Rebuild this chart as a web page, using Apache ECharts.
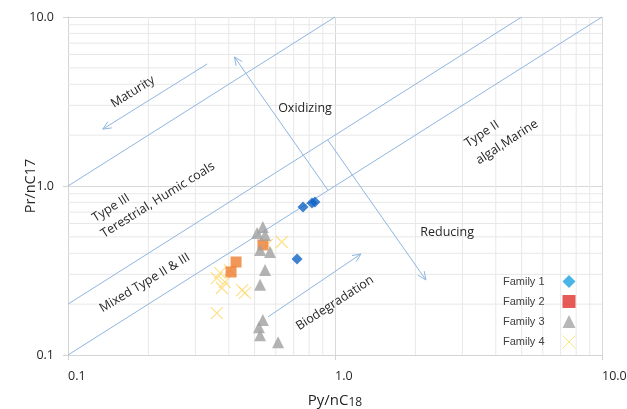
<!DOCTYPE html>
<html>
<head>
<meta charset="utf-8">
<script src="https://cdn.jsdelivr.net/npm/echarts@6/dist/echarts.min.js"></script>
<style>
  html, body { margin: 0; padding: 0; background: #ffffff; }
  #chart { width: 627px; height: 409px; }
</style>
</head>
<body>
<div id="chart"></div>
<script>
// Pristane / phytane source-environment cross plot (log-log)
const family1 = [[0.759, 0.751], [0.820, 0.793], [0.841, 0.804], [0.721, 0.370]];
const family2 = [[0.426, 0.355], [0.408, 0.310], [0.537, 0.448]];
const family3 = [
  [0.537, 0.572], [0.511, 0.527], [0.547, 0.513], [0.524, 0.418], [0.571, 0.407],
  [0.547, 0.318], [0.524, 0.260], [0.537, 0.161], [0.519, 0.146], [0.524, 0.131], [0.612, 0.119]
];
const family4 = [
  [0.371, 0.306], [0.361, 0.285], [0.404, 0.318], [0.377, 0.249], [0.449, 0.242],
  [0.460, 0.233], [0.361, 0.177], [0.632, 0.466], [0.556, 0.448], [0.387, 0.270]
];

const axisTicks = [0.1, 1, 10];
const minorSteps = [2, 3, 4, 5, 6, 7, 8, 9];

// Kerogen-type boundary lines (start, end)
const refLines = [
  [[0.1, 1.0], [1.0, 10]],
  [[0.1, 0.2], [5.0, 10]],
  [[0.1, 0.1], [10, 10]]
];
// Trend arrows (tail, head)
const trendArrows = [
  [[0.332, 5.27], [0.135, 2.17]],   // Maturity
  [[0.94, 0.946], [0.42, 5.8]],     // Oxidizing
  [[0.94, 1.87], [2.19, 0.278]],    // Reducing
  [[0.561, 0.168], [1.25, 0.396]]   // Biodegradation
];
const zoneLabels = [
  { text: 'Maturity', at: [0.175, 3.60], rotate: 32 },
  { text: 'Oxidizing', at: [0.772, 2.89], rotate: 0 },
  { text: 'Type II', at: [3.55, 2.03], rotate: 33 },
  { text: 'algal,Marine', at: [4.41, 1.82], rotate: 33 },
  { text: 'Type III', at: [0.145, 0.741], rotate: 32 },
  { text: 'Terestrial, Humic coals', at: [0.217, 0.826], rotate: 32 },
  { text: 'Mixed Type II & III', at: [0.194, 0.267], rotate: 31 },
  { text: 'Reducing', at: [2.63, 0.534], rotate: 0 },
  { text: 'Biodegradation', at: [1.0, 0.203], rotate: 33 }
];

const LINE_BLUE = '#8fb6e0';
const TEXT_DARK = '#262626';
const ANNOT_FONT = '"Open Sans", "Noto Sans", sans-serif';

const minorValues = [];
axisTicks.slice(0, -1).forEach(d => minorSteps.forEach(s => minorValues.push(+(d * s).toPrecision(3))));

function renderMinorGrid(params, api) {
  const children = [];
  minorValues.forEach(v => {
    const a = api.coord([v, 0.1]), b = api.coord([v, 10]);
    children.push({ type: 'line', shape: { x1: a[0], y1: a[1], x2: b[0], y2: b[1] },
      style: { stroke: '#e8e8e8', lineWidth: 1 } });
    const c = api.coord([0.1, v]), d = api.coord([10, v]);
    children.push({ type: 'line', shape: { x1: c[0], y1: c[1], x2: d[0], y2: d[1] },
      style: { stroke: '#e8e8e8', lineWidth: 1 } });
  });
  return { type: 'group', children };
}

function renderGuides(params, api) {
  const children = [];
  refLines.forEach(([s, e]) => {
    const p = api.coord(s), q = api.coord(e);
    children.push({ type: 'line', shape: { x1: p[0], y1: p[1], x2: q[0], y2: q[1] },
      style: { stroke: LINE_BLUE, lineWidth: 1 } });
  });
  trendArrows.forEach(([s, e]) => {
    const p = api.coord(s), q = api.coord(e);
    const ang = Math.atan2(q[1] - p[1], q[0] - p[0]);
    const len = 9, spread = 0.42;
    const h1 = [q[0] - len * Math.cos(ang - spread), q[1] - len * Math.sin(ang - spread)];
    const h2 = [q[0] - len * Math.cos(ang + spread), q[1] - len * Math.sin(ang + spread)];
    children.push({ type: 'line', shape: { x1: p[0], y1: p[1], x2: q[0], y2: q[1] },
      style: { stroke: LINE_BLUE, lineWidth: 1 } });
    children.push({ type: 'polyline', shape: { points: [h1, q, h2] },
      style: { stroke: LINE_BLUE, lineWidth: 1, fill: null } });
  });
  return { type: 'group', children };
}

function renderLabels(params, api) {
  const children = zoneLabels.map(l => {
    const p = api.coord(l.at);
    return { type: 'text', x: p[0], y: p[1], rotation: l.rotate * Math.PI / 180,
      style: { text: l.text, fill: TEXT_DARK, fontSize: 12.5, fontFamily: ANNOT_FONT,
        align: 'center', verticalAlign: 'middle' } };
  });
  return { type: 'group', children };
}

const axisCommon = {
  type: 'log', logBase: 10, min: 0.1, max: 10,
  axisLine: { show: true, lineStyle: { color: '#d4d4d4', width: 1 } },
  axisTick: { show: true, length: 5, lineStyle: { color: '#d4d4d4' } },
  splitLine: { show: true, lineStyle: { color: '#d9d9d9', width: 1 } },
  minorTick: { show: false },
  minorSplitLine: { show: false }
};

const chart = echarts.init(document.getElementById('chart'), null, { renderer: 'canvas' });
chart.setOption({
  backgroundColor: '#ffffff',
  animation: false,
  grid: { left: 68, right: 25, top: 17, bottom: 54, containLabel: false, outerBoundsMode: 'none' },
  xAxis: Object.assign({}, axisCommon, {
    name: '{a|Py/nC}{b|18}', nameLocation: 'middle', nameGap: 38,
    nameTextStyle: { rich: {
      a: { fontSize: 15, color: TEXT_DARK, fontFamily: ANNOT_FONT },
      b: { fontSize: 12, color: TEXT_DARK, fontFamily: ANNOT_FONT, padding: [4, 0, 0, 0] } } },
    axisLabel: { align: 'left', margin: 15, fontSize: 12.5, color: TEXT_DARK, fontFamily: ANNOT_FONT,
      formatter: v => v.toFixed(1) }
  }),
  yAxis: Object.assign({}, axisCommon, {
    name: 'Pr/nC17', nameLocation: 'middle', nameGap: 30, nameMoveOverlap: false,
    nameTextStyle: { fontSize: 14.5, color: TEXT_DARK, fontFamily: ANNOT_FONT },
    axisLabel: { margin: 14, fontSize: 12.5, color: TEXT_DARK, fontFamily: ANNOT_FONT,
      formatter: v => v.toFixed(1) }
  }),
  legend: {
    orient: 'vertical', right: 46, top: 270, align: 'right',
    itemWidth: 13, itemHeight: 13, itemGap: 7, symbolKeepAspect: true,
    textStyle: { fontSize: 11, color: '#404040', fontFamily: '"Liberation Sans", Arial, sans-serif',
      padding: [0, 13, 0, 0] },
    data: [
      { name: 'Family 1', itemStyle: { color: '#1ba1e2' } },
      { name: 'Family 2', itemStyle: { color: '#e0322a' } },
      { name: 'Family 3', itemStyle: { color: '#a5a5a5' } },
      { name: 'Family 4', itemStyle: { color: 'transparent', borderColor: '#f3e55a', borderWidth: 1 } }
    ]
  },
  series: [
    { type: 'custom', name: 'minor-grid', silent: true, z: 1, data: [[1, 1]], renderItem: renderMinorGrid },
    { type: 'custom', name: 'guides', silent: true, z: 2, data: [[1, 1]], renderItem: renderGuides },
    { type: 'custom', name: 'zone-labels', silent: true, z: 3, data: [[1, 1]], renderItem: renderLabels },
    { type: 'scatter', name: 'Family 1', z: 5, data: family1, symbol: 'diamond', symbolSize: 11,
      itemStyle: { color: '#0f63c6' } },
    { type: 'scatter', name: 'Family 2', z: 5, data: family2, symbol: 'rect', symbolSize: 11,
      itemStyle: { color: '#ed7d31' } },
    { type: 'scatter', name: 'Family 3', z: 5, data: family3, symbol: 'triangle', symbolSize: 12,
      itemStyle: { color: '#a0a0a0' } },
    { type: 'scatter', name: 'Family 4', z: 4, data: family4, symbol: 'path://M0,0L10,10M10,0L0,10',
      symbolSize: 12, itemStyle: { color: 'transparent', borderColor: '#fcd86a', borderWidth: 1.2 } }
  ]
});
</script>
</body>
</html>
